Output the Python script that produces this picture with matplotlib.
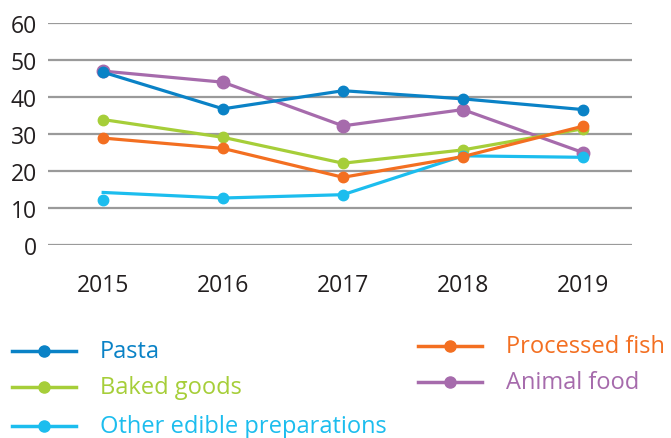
import matplotlib.pyplot as plt

years = ['2015', '2016', '2017', '2018', '2019']

pasta = [46.7, 36.8, 41.7, 39.5, 36.6]
baked_goods = [33.9, 29.1, 22.1, 25.7, 31.4]
other_edible = [14.2, 12.7, 13.6, 24.1, 23.7]
other_edible_markers = [12.2, 12.7, 13.6, 24.1, 23.7]
processed_fish = [28.9, 26.1, 18.3, 23.9, 32.1]
animal_food = [47.0, 44.0, 32.2, 36.6, 25.0]

C_PASTA = '#0a82c6'
C_BAKED = '#a6ce39'
C_OTHER = '#1cbdee'
C_FISH = '#f36f21'
C_ANIMAL = '#a66bac'

plt.rcParams['font.family'] = ['Open Sans', 'DejaVu Sans']

fig = plt.figure(figsize=(6.71, 4.39), dpi=100)
ax = fig.add_axes([48 / 671, (439 - 246) / 439, (632 - 48) / 671, 222 / 439])

x = list(range(len(years)))
lw = 2.3
ms = 7.5

ax.plot(x, animal_food, color=C_ANIMAL, lw=lw, marker='o', ms=9, clip_on=False, zorder=3)
ax.plot(x, baked_goods, color=C_BAKED, lw=lw, marker='o', ms=ms, clip_on=False, zorder=3)
ax.plot(x, pasta, color=C_PASTA, lw=lw, marker='o', ms=ms, clip_on=False, zorder=3)
ax.plot(x, other_edible, color=C_OTHER, lw=lw, clip_on=False, zorder=3)
ax.plot(x, other_edible_markers, color=C_OTHER, lw=0, marker='o', ms=ms, clip_on=False, zorder=3)
ax.plot(x, processed_fish, color=C_FISH, lw=lw, marker='o', ms=ms, clip_on=False, zorder=3)

ax.set_xlim(-0.46, 4.41)
ax.set_ylim(0, 60)
ax.set_yticks(range(0, 61, 10))
ax.set_xticks(x)
ax.set_xticklabels(years)
ax.yaxis.grid(True, color='#9a9a9a', lw=1.6)
ax.set_axisbelow(True)
for s in ax.spines.values():
    s.set_visible(False)
ax.tick_params(axis='both', length=0, labelsize=16.5, colors='#231f20')
ax.tick_params(axis='y', pad=8)
ax.tick_params(axis='x', pad=20)

# legend drawn by hand in pixel coordinates
leg = fig.add_axes([0, 0, 1, 1])
leg.set_xlim(0, 671)
leg.set_ylim(439, 0)
leg.axis('off')

entries = [
    ('Pasta', C_PASTA, 12, 352),
    ('Baked goods', C_BAKED, 12, 388),
    ('Other edible preparations', C_OTHER, 12, 427),
    ('Processed fish', C_FISH, 418, 347),
    ('Animal food', C_ANIMAL, 418, 383),
]
for label, col, x0, y0 in entries:
    leg.plot([x0, x0 + 64], [y0, y0], color=col, lw=2.5)
    leg.plot([x0 + 32], [y0], color=col, marker='o', ms=8)
    leg.text(x0 + 88, y0, label, color=col, fontsize=17, va='center', ha='left')

fig.savefig('out.png', dpi=100)
